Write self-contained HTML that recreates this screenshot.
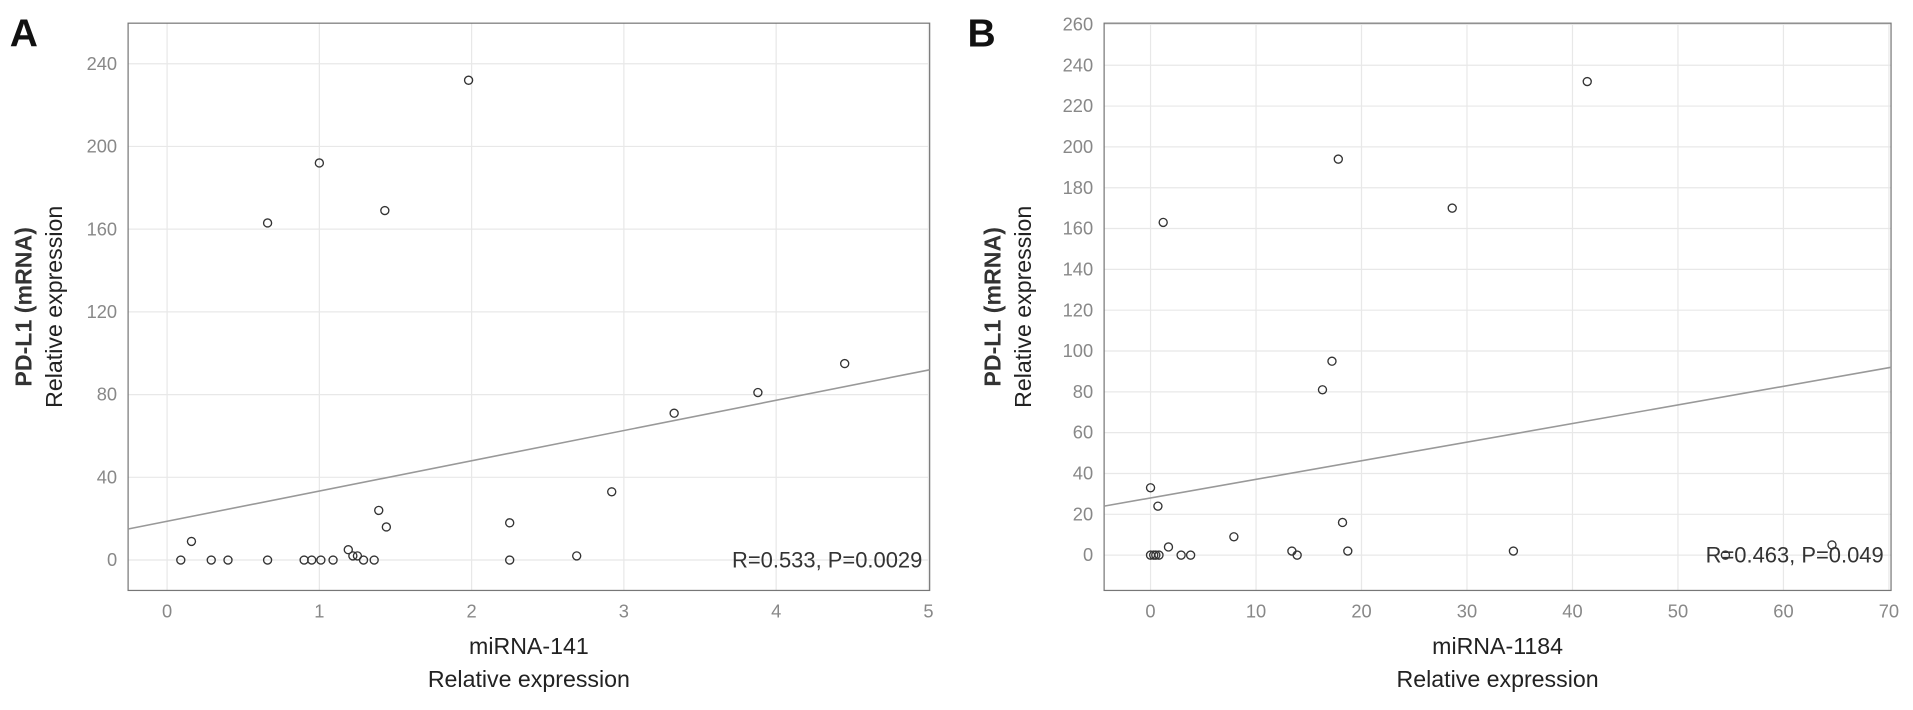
<!DOCTYPE html>
<html><head><meta charset="utf-8"><style>
html,body{margin:0;padding:0;background:#fff;}
svg{display:block;font-family:"Liberation Sans",Arial,sans-serif;}
</style></head><body>
<svg id="c" width="1913" height="710" viewBox="0 0 1568 582" preserveAspectRatio="none"></svg>
<script>
// Panel A data
const aX=[0.09,0.16,0.29,0.4,0.66,0.66,0.9,0.95,1.01,1.0,1.09,1.19,1.22,1.25,1.29,1.36,1.39,1.44,1.43,1.98,2.25,2.25,2.69,2.92,3.33,3.88,4.45];
const aY=[0,9,0,0,0,163,0,0,0,192,0,5,2,2,0,0,24,16,169,232,0,18,2,33,71,81,95];
const aXTicks=[0,1,2,3,4,5];
const aYTicks=[0,40,80,120,160,200,240];
const aFit=[15,92];
// Panel B data
const bX=[0,0,0.3,0.5,0.8,0.7,1.2,1.7,2.9,3.8,7.9,13.4,13.9,17.2,16.3,17.8,18.2,18.7,28.6,34.4,41.4,54.5,64.6];
const bY=[33,0,0,0,0,24,163,4,0,0,9,2,0,95,81,194,16,2,170,2,232,0,5];
const bXTicks=[0,10,20,30,40,50,60,70];
const bYTicks=[0,20,40,60,80,100,120,140,160,180,200,220,240,260];
const bFit=[24,92];

const NS="http://www.w3.org/2000/svg";
const svg=document.getElementById('c');
function el(t,a,p){const e=document.createElementNS(NS,t);for(const k in a)e.setAttribute(k,a[k]);(p||svg).appendChild(e);return e;}

function panel(o){
  const g=el('g',{});
  
  
  const sx=v=>o.x0+(v-o.xmin)/(o.xmax-o.xmin)*(o.x1-o.x0);
  const sy=v=>o.y1-(v-o.ymin)/(o.ymax-o.ymin)*(o.y1-o.y0);
  o.xt.forEach(v=>{
    const l=el('line',{x1:sx(v),x2:sx(v),y1:o.y0,y2:o.y1,stroke:'#e8e8e8','stroke-width':1},g);
    
    const t=el('text',{x:sx(v),y:o.y1+22,'text-anchor':'middle','font-size':15,fill:'#888'},g);
    t.textContent=v;
    
  });
  o.yt.forEach(v=>{
    const l=el('line',{x1:o.x0,x2:o.x1,y1:sy(v),y2:sy(v),stroke:'#e8e8e8','stroke-width':1},g);
    
    const t=el('text',{x:o.x0-9,y:sy(v)+5,'text-anchor':'end','font-size':15,fill:'#888'},g);
    t.textContent=v;
    
  });
  const r=el('rect',{x:o.x0,y:o.y0,width:o.x1-o.x0,height:o.y1-o.y0,fill:'none',stroke:'#777','stroke-width':1},g);
  
  const fl=el('line',{x1:o.x0,y1:sy(o.fit[0]),x2:o.x1,y2:sy(o.fit[1]),stroke:'#999','stroke-width':1.3},g);
  
  o.xs.forEach((v,i)=>{
    const c=el('circle',{cx:sx(v),cy:sy(o.ys[i]),r:3.3,fill:'none',stroke:'#333','stroke-width':1.1},g);
    
  });
  const st=el('text',{x:o.x1-6,y:sy(0)+6,'text-anchor':'end','font-size':18,fill:'#333'},g);
  st.textContent=o.stat;
  
  const cx=(o.x0+o.x1)/2;
  const xt1=el('text',{x:cx,y:536,'text-anchor':'middle','font-size':19,fill:'#222'},g);
  xt1.textContent=o.xlabel;
  
  const xt2=el('text',{x:cx,y:563,'text-anchor':'middle','font-size':19,fill:'#222'},g);
  xt2.textContent='Relative expression';
  
  const cy=(o.y0+o.y1)/2;
  const yt1=el('text',{x:0,y:0,'text-anchor':'middle','font-size':19,'font-weight':'bold',fill:'#333',transform:`translate(${o.ytx},${cy}) rotate(-90)`},g);
  yt1.textContent='PD-L1 (mRNA)';
  
  const yt2=el('text',{x:0,y:0,'text-anchor':'middle','font-size':19,fill:'#222',transform:`translate(${o.ytx+25},${cy}) rotate(-90)`},g);
  yt2.textContent='Relative expression';
  
  const pl=el('text',{x:o.lx,y:38,'font-size':32,'font-weight':'bold',fill:'#111'},g);
  pl.textContent=o.letter;
  
}
panel({name:'panel-a',x0:105,x1:762,y0:19,y1:484,xmin:-0.256,xmax:5.008,ymin:-14.7,ymax:259.6,
  xt:aXTicks,yt:aYTicks,xs:aX,ys:aY,fit:aFit,stat:'R=0.533, P=0.0029',xlabel:'miRNA-141',ytx:26,lx:8,letter:'A'});
panel({name:'panel-b',x0:905,x1:1550,y0:19,y1:484,xmin:-4.4,xmax:70.2,ymin:-17.3,ymax:260.6,
  xt:bXTicks,yt:bYTicks,xs:bX,ys:bY,fit:bFit,stat:'R=0.463, P=0.049',xlabel:'miRNA-1184',ytx:820,lx:793,letter:'B'});
</script>
</body></html>
